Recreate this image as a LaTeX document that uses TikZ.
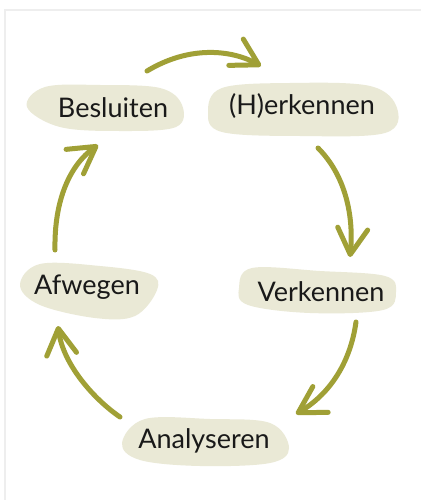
\documentclass[tikz,border=0pt]{standalone}
\usepackage{fontspec}
\setmainfont{Lato}
\usetikzlibrary{arrows.meta}
\definecolor{olive}{HTML}{A0A036}
\definecolor{blob}{HTML}{EAE9D6}
\definecolor{frameg}{HTML}{EEEEEE}
\tikzset{
  blobshape/.style={fill=blob, draw=none},
  label/.style={font=\fontsize{27}{30}\selectfont, text=black!90, inner sep=0pt},
  cyc/.style={draw=olive, line width=5pt, line cap=round,
    -{Straight Barb[length=26pt,width=30pt,line width=5pt,round]}}
}
\begin{document}
\begin{tikzpicture}[x=1pt,y=-1pt]
\useasboundingbox (0,0) rectangle (421,500);
\fill[white] (0,0) rectangle (421,500);
\draw[frameg, line width=2.5pt] (5,500) -- (5,10) -- (421,10);

% blobs
\fill[blobshape] plot[smooth cycle, tension=0.6] coordinates
 {(27,107) (45,87) (100,85) (160,88) (182,105) (176,127) (120,131) (60,127)};
\fill[blobshape] plot[smooth cycle, tension=0.6] coordinates
 {(208,112) (222,88) (290,83) (370,86) (397,108) (385,133) (300,136) (222,132)};
\fill[blobshape] plot[smooth cycle, tension=0.6] coordinates
 {(239,288) (252,268) (320,271) (385,276) (396,292) (383,310) (310,313) (248,305)};
\fill[blobshape] plot[smooth cycle, tension=0.6] coordinates
 {(20,285) (40,264) (100,266) (150,274) (157,290) (135,316) (95,318) (40,305)};
\fill[blobshape] plot[smooth cycle, tension=0.6] coordinates
 {(122,443) (145,419) (210,419) (270,423) (289,448) (270,463) (200,466) (140,460)};

% labels
\node[label] (bes) at (113,108) {Besluiten};
\node[label] (her) at (302,106) {(H)erkennen};
\node[label] (ver) at (321,292) {Verkennen};
\node[label] (afw) at (87,287) {Afwegen};
\node[label] (ana) at (204,441) {Analyseren};

% connector endpoints
\coordinate (a1s) at (147,71);  \coordinate (a1e) at (261,66);
\coordinate (a2s) at (318,148); \coordinate (a2e) at (350,257);
\coordinate (a3s) at (356,322); \coordinate (a3e) at (296,414);
\coordinate (a4s) at (120,417); \coordinate (a4e) at (58,326);
\coordinate (a5s) at (55,250);  \coordinate (a5e) at (98,145);

\draw[cyc] (a1s) .. controls (190,45) and (232,50) .. (a1e);
\draw[cyc] (a2s) .. controls (345,175) and (354,215) .. (a2e);
\draw[cyc] (a3s) .. controls (350,365) and (328,395) .. (a3e);
\draw[cyc] (a4s) .. controls (95,400) and (63,365) .. (a4e);
\draw[cyc] (a5s) .. controls (54,200) and (70,165) .. (a5e);
\end{tikzpicture}
\end{document}
